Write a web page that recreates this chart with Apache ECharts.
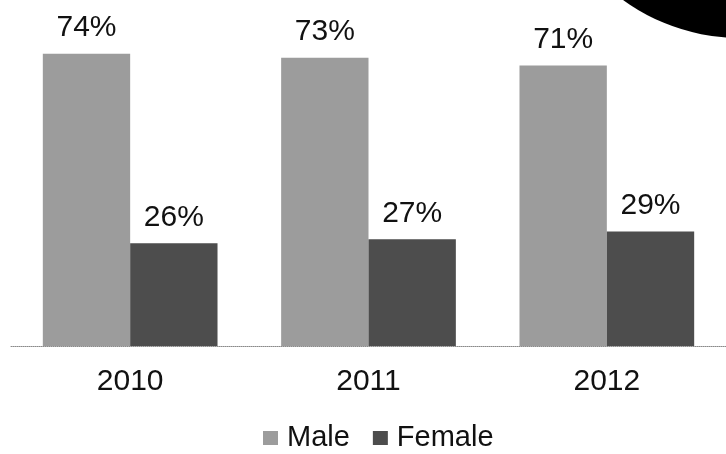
<!DOCTYPE html>
<html>
<head>
<meta charset="utf-8">
<style>html,body{margin:0;padding:0;background:#fff}#c{width:726px;height:454px}</style>
<script src="https://cdn.jsdelivr.net/npm/echarts@6/dist/echarts.min.js"></script>
</head>
<body>
<div id="c"></div>
<script>
var categories = ['2010', '2011', '2012'];
var maleValues = [74, 73, 71];
var femaleValues = [26, 27, 29];
var seriesNames = ['Male', 'Female'];

var chart = echarts.init(document.getElementById('c'));
var font = 'Liberation Sans, Arial, sans-serif';
chart.setOption({
  animation: false,
  backgroundColor: '#ffffff',
  grid: { left: 11, right: -13, top: 30, bottom: 108, containLabel: false },
  xAxis: {
    type: 'category',
    data: categories,
    axisTick: { show: false },
    axisLine: { show: true, lineStyle: { color: '#8a8a8a', type: 'dotted', width: 1 } },
    axisLabel: { color: '#111', fontSize: 30, fontFamily: font, margin: 21 }
  },
  yAxis: {
    type: 'value', min: 0, max: 80, show: false,
    splitLine: { show: false }
  },
  legend: {
    data: seriesNames,
    top: 423,
    left: 263,
    padding: 0,
    itemWidth: 15, itemHeight: 14, itemGap: 23,
    icon: 'rect',
    textStyle: { color: '#111', fontSize: 29, lineHeight: 30, fontFamily: font, padding: [0, 0, 0, 4] }
  },
  series: [
    {
      name: seriesNames[0], type: 'bar', data: maleValues,
      barGap: '0%', barCategoryGap: '26.7%',
      itemStyle: { color: '#9c9c9c' },
      label: { show: true, position: 'top', distance: 11, formatter: '{c}%', color: '#111', fontSize: 30, fontFamily: font }
    },
    {
      name: seriesNames[1], type: 'bar', data: femaleValues,
      itemStyle: { color: '#4d4d4d' },
      label: { show: true, position: 'top', distance: 11, formatter: '{c}%', color: '#111', fontSize: 30, fontFamily: font }
    }
  ],
  graphic: [
    { type: 'circle', shape: { cx: 740, cy: -161, r: 199 }, style: { fill: '#000' }, silent: true }
  ]
});
</script>
</body>
</html>
